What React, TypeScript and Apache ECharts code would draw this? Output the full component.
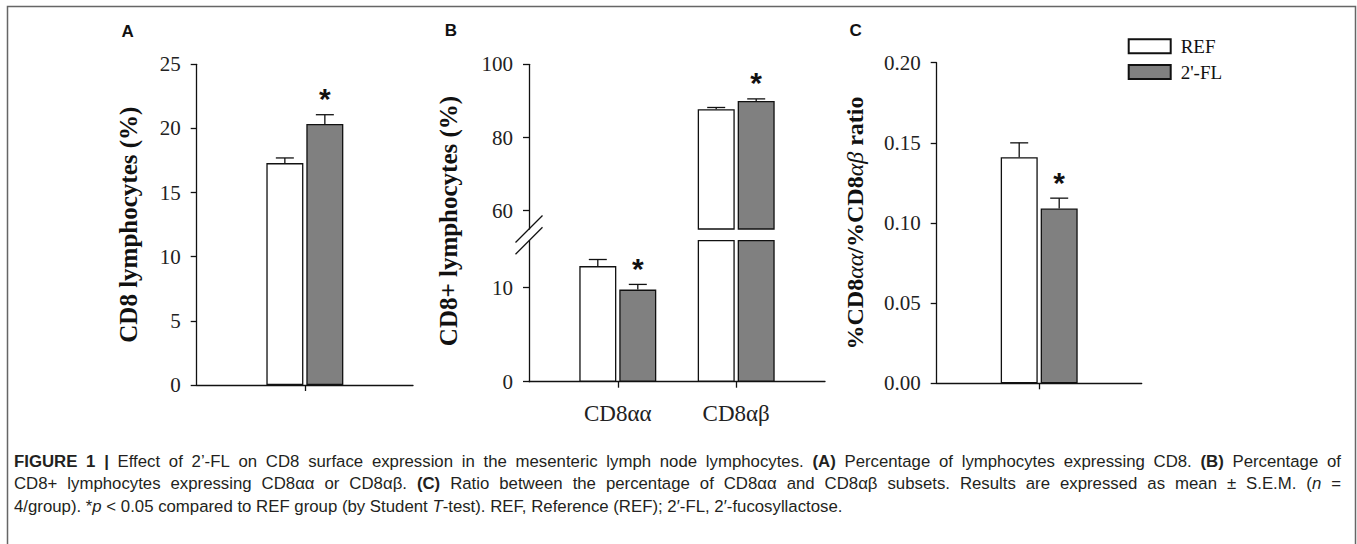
import React, { useEffect, useRef } from "react";
import * as echarts from "echarts";

// ---------- data ----------
const groupNames = ["REF", "2'-FL"];

// Panel A: CD8 lymphocytes (%)
const catsA = [""];
const refA = [17.3];
const refErrA = [0.4];
const flA = [20.35];
const flErrA = [0.72];
const sigA = [1];
const ticksA = [0, 5, 10, 15, 20, 25];

// Panel B: CD8+ lymphocytes (%)
const catsB = ["CD8αα", "CD8αβ"];
const refB = [12.3, 87.7];
const refErrB = [0.7, 0.5];
const flB = [9.8, 90.0];
const flErrB = [0.55, 0.55];
const sigB = [1, 1];
const ticksBLow = [0, 10];
const ticksBHigh = [60, 80, 100];
const breakB = [15, 55];

// Panel C: ratio
const catsC = [""];
const refC = [0.141];
const refErrC = [0.009];
const flC = [0.109];
const flErrC = [0.0065];
const sigC = [1];
const ticksC = [0, 0.05, 0.1, 0.15, 0.2];

// Caption (segments: [style, text])
const captionLines: [string, string][][] = [
  [
    ["b", "FIGURE 1 |"],
    ["r", " Effect of 2’-FL on CD8 surface expression in the mesenteric lymph node lymphocytes. "],
    ["b", "(A)"],
    ["r", " Percentage of lymphocytes expressing CD8. "],
    ["b", "(B)"],
    ["r", " Percentage of"],
  ],
  [
    ["r", "CD8+ lymphocytes expressing CD8αα or CD8αβ. "],
    ["b", "(C)"],
    ["r", " Ratio between the percentage of CD8αα and CD8αβ subsets. Results are expressed as mean ± S.E.M. ("],
    ["i", "n"],
    ["r", " ="],
  ],
  [
    ["r", "4/group). *"],
    ["i", "p"],
    ["r", " < 0.05 compared to REF group (by Student "],
    ["i", "T"],
    ["r", "-test). REF, Reference (REF); 2′-FL, 2′-fucosyllactose."],
  ],
];
const captionJustify = [true, true, false];

// ---------- layout / style ----------
const W = 1357;
const H = 544;
const GA = { left: 196.7, top: 64.3, width: 216.3, height: 320.7 };
const GBU = { left: 529, top: 64.3, width: 296, height: 164.7 };
const GBL = { left: 529, top: 240.7, width: 296, height: 141 };
const GC = { left: 936.7, top: 62.7, width: 205, height: 320.6 };

const BAR_W = 37;
const OFF = 20;
const CAP = 9;
const STAR_GAP = 16;
const INK = "#111";
const GREY = "#808080";
const SERIF = "'Liberation Serif', 'Times New Roman', serif";
const SANS = "'Liberation Sans', Arial, sans-serif";
const CAP_FS = 16.8;
const CAP_X = 14;
const CAP_RIGHT = 1341;
const CAP_Y = [461, 483.5, 506];
const CAP_COLOR = "#231f20";

const axisLine = { show: true, onZero: false, lineStyle: { color: INK, width: 1.3 } };
const tickLabel = { fontFamily: SERIF, fontSize: 21, color: "#222", margin: 16 };

const refStyle = { color: "#ffffff", borderColor: INK, borderWidth: 1.3 };
const flStyle = { color: GREY, borderColor: INK, borderWidth: 1.3 };

function errRender(_params: any, api: any) {
  const x = api.value(0);
  const v = api.value(1);
  const e = api.value(2);
  const side = api.value(3);
  const sig = api.value(4);
  const p0 = api.coord([x, v]);
  const p1 = api.coord([x, v + e]);
  const cx = p0[0] + (side ? OFF : -OFF);
  const ls = { stroke: INK, lineWidth: 1.3 };
  const children: any[] = [
    { type: "line", shape: { x1: cx, y1: p0[1], x2: cx, y2: p1[1] }, style: ls },
    { type: "line", shape: { x1: cx - CAP, y1: p1[1], x2: cx + CAP, y2: p1[1] }, style: ls },
  ];
  if (sig) {
    children.push({
      type: "text",
      x: cx,
      y: p1[1] - STAR_GAP,
      style: {
        text: "*",
        fontSize: 30,
        fontWeight: "bold",
        fontFamily: SANS,
        fill: INK,
        align: "center",
        verticalAlign: "middle",
      },
    });
  }
  return { type: "group", children };
}

function errData(
  vals: number[],
  errs: number[],
  side: number,
  sig: number[] | null,
  keep: (v: number) => boolean
) {
  const out: number[][] = [];
  vals.forEach((v, i) => {
    if (keep(v)) out.push([i, v, errs[i], side, sig ? sig[i] : 0]);
  });
  return out;
}

const all = () => true;
const high = (v: number) => v > breakB[0];
const low = (v: number) => v <= breakB[0];

// ---------- caption justification ----------
const fontOf: Record<string, string> = {
  r: `${CAP_FS}px ${SANS}`,
  b: `bold ${CAP_FS}px ${SANS}`,
  i: `italic ${CAP_FS}px ${SANS}`,
};
let measureCtx: CanvasRenderingContext2D | null = null;
function measure(text: string, style: string) {
  if (!measureCtx) measureCtx = document.createElement("canvas").getContext("2d");
  if (!measureCtx) return text.length * CAP_FS * 0.5;
  measureCtx.font = fontOf[style];
  return measureCtx.measureText(text).width;
}

function captionGraphic(line: [string, string][], justify: boolean, y: number) {
  const pieces: { s: string; t: string }[] = [];
  let nSpaces = 0;
  let wordsW = 0;
  line.forEach(([s, text]) => {
    let word = "";
    for (const ch of text) {
      if (ch === " ") {
        if (word) {
          pieces.push({ s, t: word });
          wordsW += measure(word, s);
          word = "";
        }
        pieces.push({ s: "sp", t: " " });
        nSpaces += 1;
      } else {
        word += ch;
      }
    }
    if (word) {
      pieces.push({ s, t: word });
      wordsW += measure(word, s);
    }
  });
  const natural = measure(" ", "r");
  const spW = justify && nSpaces ? (CAP_RIGHT - CAP_X - wordsW) / nSpaces : natural;
  const tok = { fontFamily: SANS, fontSize: CAP_FS, color: CAP_COLOR };
  const rich = {
    r: { ...tok },
    b: { ...tok, fontWeight: "bold" },
    i: { ...tok, fontStyle: "italic" },
    sp: { ...tok, width: spW },
  };
  const text = pieces.map((p) => `{${p.s}|${p.t}}`).join("");
  return {
    type: "text",
    x: CAP_X,
    y,
    style: { text, rich, fontFamily: SANS, fontSize: CAP_FS, fill: CAP_COLOR, verticalAlign: "middle" },
  };
}

function buildOption(): any {
  const yTop = GBU.top + GBU.height;
  const yBot = GBL.top;
  const sl = 13.5;
  return {
    animation: false,
    backgroundColor: "#ffffff",
    grid: [
      { ...GA, containLabel: false },
      { ...GBU, containLabel: false },
      { ...GBL, containLabel: false },
      { ...GC, containLabel: false },
    ],
    legend: {
      data: groupNames,
      orient: "vertical",
      left: 1127.7,
      top: 36.8,
      icon: "rect",
      itemWidth: 42,
      itemHeight: 14,
      itemGap: 6.7,
      selectedMode: false,
      padding: 0,
      textStyle: { fontFamily: SERIF, fontSize: 19, color: INK, padding: [0, 0, 0, 5] },
    },
    xAxis: [
      {
        gridIndex: 0,
        type: "category",
        data: catsA,
        axisLine,
        axisTick: { show: true, alignWithLabel: true, length: 6, lineStyle: { color: INK, width: 1.3 } },
        axisLabel: { show: false },
      },
      {
        gridIndex: 1,
        type: "value",
        min: -0.75,
        max: 1.75,
        show: false,
        splitLine: { show: false },
      },
      {
        gridIndex: 2,
        type: "value",
        min: -0.75,
        max: 1.75,
        axisLine,
        splitLine: { show: false },
        axisTick: { show: true, length: 6, customValues: [0, 1], lineStyle: { color: INK, width: 1.3 } },
        axisLabel: {
          fontFamily: SERIF,
          fontSize: 23,
          color: "#222",
          margin: 20,
          customValues: [0, 1],
          formatter: (v: number) => catsB[Math.round(v)] ?? "",
        },
      },
      {
        gridIndex: 3,
        type: "category",
        data: catsC,
        axisLine,
        axisTick: { show: true, alignWithLabel: true, length: 6, lineStyle: { color: INK, width: 1.3 } },
        axisLabel: { show: false },
      },
    ],
    yAxis: [
      {
        gridIndex: 0,
        type: "value",
        min: ticksA[0],
        max: ticksA[ticksA.length - 1],
        interval: ticksA[1] - ticksA[0],
        axisLine,
        axisTick: { show: true, length: 6, lineStyle: { color: INK, width: 1.3 } },
        splitLine: { show: false },
        axisLabel: tickLabel,
        name: "CD8 lymphocytes (%)",
        nameLocation: "middle",
        nameGap: 56,
        nameTextStyle: { fontFamily: SERIF, fontWeight: "bold", fontSize: 25, color: INK },
      },
      {
        gridIndex: 1,
        type: "value",
        min: breakB[1],
        max: ticksBHigh[ticksBHigh.length - 1],
        axisLine,
        axisTick: { show: true, length: 6, customValues: ticksBHigh, lineStyle: { color: INK, width: 1.3 } },
        splitLine: { show: false },
        axisLabel: { ...tickLabel, customValues: ticksBHigh },
      },
      {
        gridIndex: 2,
        type: "value",
        min: 0,
        max: breakB[0],
        axisLine,
        axisTick: { show: true, length: 6, customValues: ticksBLow, lineStyle: { color: INK, width: 1.3 } },
        splitLine: { show: false },
        axisLabel: { ...tickLabel, customValues: ticksBLow },
      },
      {
        gridIndex: 3,
        type: "value",
        min: ticksC[0],
        max: ticksC[ticksC.length - 1],
        interval: 0.05,
        axisLine,
        axisTick: { show: true, length: 6, lineStyle: { color: INK, width: 1.3 } },
        splitLine: { show: false },
        axisLabel: { ...tickLabel, formatter: (v: number) => v.toFixed(2) },
        name: "%CD8{a|αα}/%CD8{a|αβ} ratio",
        nameLocation: "middle",
        nameGap: 70,
        nameTextStyle: {
          fontFamily: SERIF,
          fontWeight: "bold",
          fontSize: 24,
          color: INK,
          rich: {
            a: { fontFamily: SERIF, fontStyle: "italic", fontWeight: "normal", fontSize: 24, color: INK },
          },
        },
      },
    ],
    series: [
      // Panel A
      { name: groupNames[0], type: "bar", xAxisIndex: 0, yAxisIndex: 0, data: refA, barWidth: BAR_W, barGap: "8%", itemStyle: refStyle },
      { name: groupNames[1], type: "bar", xAxisIndex: 0, yAxisIndex: 0, data: flA, barWidth: BAR_W, barGap: "8%", itemStyle: flStyle },
      {
        type: "custom", xAxisIndex: 0, yAxisIndex: 0, z: 5, renderItem: errRender,
        data: [...errData(refA, refErrA, 0, null, all), ...errData(flA, flErrA, 1, sigA, all)],
      },
      // Panel B upper
      {
        name: groupNames[0], type: "bar", xAxisIndex: 1, yAxisIndex: 1, barWidth: BAR_W, barGap: "8%", itemStyle: refStyle,
        data: refB.map((v, i) => [i, high(v) ? v : null]),
      },
      {
        name: groupNames[1], type: "bar", xAxisIndex: 1, yAxisIndex: 1, barWidth: BAR_W, barGap: "8%", itemStyle: flStyle,
        data: flB.map((v, i) => [i, high(v) ? v : null]),
      },
      {
        type: "custom", xAxisIndex: 1, yAxisIndex: 1, z: 5, renderItem: errRender,
        data: [...errData(refB, refErrB, 0, null, high), ...errData(flB, flErrB, 1, sigB, high)],
      },
      // Panel B lower
      {
        name: groupNames[0], type: "bar", xAxisIndex: 2, yAxisIndex: 2, barWidth: BAR_W, barGap: "8%", itemStyle: refStyle, clip: true,
        data: refB.map((v, i) => [i, v]),
      },
      {
        name: groupNames[1], type: "bar", xAxisIndex: 2, yAxisIndex: 2, barWidth: BAR_W, barGap: "8%", itemStyle: flStyle, clip: true,
        data: flB.map((v, i) => [i, v]),
      },
      {
        type: "custom", xAxisIndex: 2, yAxisIndex: 2, z: 5, renderItem: errRender,
        data: [...errData(refB, refErrB, 0, null, low), ...errData(flB, flErrB, 1, sigB, low)],
      },
      // Panel C
      { name: groupNames[0], type: "bar", xAxisIndex: 3, yAxisIndex: 3, data: refC, barWidth: BAR_W, barGap: "8%", itemStyle: refStyle },
      { name: groupNames[1], type: "bar", xAxisIndex: 3, yAxisIndex: 3, data: flC, barWidth: BAR_W, barGap: "8%", itemStyle: flStyle },
      {
        type: "custom", xAxisIndex: 3, yAxisIndex: 3, z: 5, renderItem: errRender,
        data: [...errData(refC, refErrC, 0, null, all), ...errData(flC, flErrC, 1, sigC, all)],
      },
    ],
    graphic: [
      {
        type: "polyline",
        silent: true,
        shape: { points: [[7.5, H], [7.5, 6.5], [1355.5, 6.5], [1355.5, H]] },
        style: { stroke: "#666", lineWidth: 1.5, fill: null },
      },
      { type: "text", x: 127.7, y: 31.7, style: { text: "A", fontFamily: SANS, fontWeight: "bold", fontSize: 17, fill: INK, align: "center", verticalAlign: "middle" } },
      { type: "text", x: 451, y: 30, style: { text: "B", fontFamily: SANS, fontWeight: "bold", fontSize: 17, fill: INK, align: "center", verticalAlign: "middle" } },
      { type: "text", x: 855.7, y: 30, style: { text: "C", fontFamily: SANS, fontWeight: "bold", fontSize: 17, fill: INK, align: "center", verticalAlign: "middle" } },
      {
        type: "text",
        x: 448,
        y: 221,
        rotation: Math.PI / 2,
        style: { text: "CD8+ lymphocytes (%)", fontFamily: SERIF, fontWeight: "bold", fontSize: 25, fill: INK, align: "center", verticalAlign: "middle" },
      },
      // axis break marks
      {
        type: "line",
        shape: { x1: GBU.left - sl, y1: yTop + sl, x2: GBU.left + sl, y2: yTop - sl },
        style: { stroke: INK, lineWidth: 1.3 },
      },
      {
        type: "line",
        shape: { x1: GBL.left - sl, y1: yBot + sl, x2: GBL.left + sl, y2: yBot - sl },
        style: { stroke: INK, lineWidth: 1.3 },
      },
      // caption
      ...captionLines.map((line, k) => captionGraphic(line, captionJustify[k], CAP_Y[k])),
    ],
  };
}

export default function App() {
  const ref = useRef<HTMLDivElement>(null);
  useEffect(() => {
    document.body.style.margin = "0";
    if (!ref.current) return;
    const chart = echarts.init(ref.current, null, { renderer: "svg" });
    chart.setOption(buildOption());
    return () => chart.dispose();
  }, []);
  return <div ref={ref} style={{ width: W, height: H }} />;
}
